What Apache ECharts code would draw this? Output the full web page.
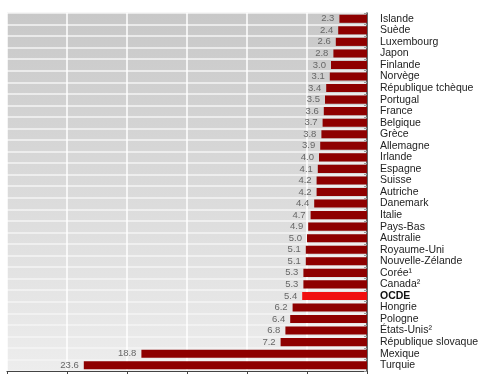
<!DOCTYPE html>
<html>
<head>
<meta charset="utf-8">
<script src="https://cdn.jsdelivr.net/npm/echarts@6/dist/echarts.min.js"></script>
<style>html,body{margin:0;padding:0;background:#fff}#c{width:478px;height:376px}</style>
</head>
<body>
<div id="c"></div>
<script>
var categories = ["Islande","Suède","Luxembourg","Japon","Finlande","Norvège","République tchèque","Portugal","France","Belgique","Grèce","Allemagne","Irlande","Espagne","Suisse","Autriche","Danemark","Italie","Pays-Bas","Australie","Royaume-Uni","Nouvelle-Zélande","Corée¹","Canada²","OCDE","Hongrie","Pologne","États-Unis²","République slovaque","Mexique","Turquie"];
var values = [2.3,2.4,2.6,2.8,3.0,3.1,3.4,3.5,3.6,3.7,3.8,3.9,4.0,4.1,4.2,4.2,4.4,4.7,4.9,5.0,5.1,5.1,5.3,5.3,5.4,6.2,6.4,6.8,7.2,18.8,23.6];
var highlight = "OCDE";

var chart = echarts.init(document.getElementById('c'), null, {renderer:'canvas'});
var data = values.map(function(v,i){
  var item = {value:v};
  if (categories[i] === highlight) item.itemStyle = {color:'#f01010'};
  return item;
});
chart.setOption({
  animation:false,
  grid:{left:7,right:111,top:13,bottom:5,show:true,borderWidth:0,containLabel:false,outerBoundsMode:'none',
    backgroundColor:{type:'linear',x:0,y:0,x2:0,y2:1,colorStops:[{offset:0,color:'#c8c8c8'},{offset:1,color:'#ededed'}]}},
  xAxis:{type:'value',min:0,max:30,interval:5,inverse:true,
    axisLine:{show:true,lineStyle:{color:'#444',width:1.2}},
    axisTick:{show:true,length:3,lineStyle:{color:'#444'}},
    axisLabel:{show:false},
    splitLine:{show:true,lineStyle:{color:'#ffffff',width:1.5}}},
  yAxis:{type:'category',data:categories,inverse:true,position:'right',
    axisLine:{show:true,onZero:false,lineStyle:{color:'#333',width:1.5}},
    axisTick:{show:true,inside:true,length:3,interval:0,lineStyle:{color:'#999'}},
    splitLine:{show:true,interval:0,lineStyle:{color:'#f4f4f4',width:1.5}},
    axisLabel:{margin:13,interval:0,color:'#222',fontFamily:'Liberation Sans, Arial, sans-serif',fontSize:10.5,
      formatter:function(v){return v===highlight?'{b|'+v+'}':v;},
      rich:{b:{fontWeight:'bold',color:'#111',fontSize:10.5,fontFamily:'Liberation Sans, Arial, sans-serif'}}}},
  series:[{type:'bar',data:data,barCategoryGap:'30%',
    itemStyle:{color:'#8e0000'},
    label:{show:true,position:'left',distance:5,color:'#666',fontSize:9.5,
      fontFamily:'Liberation Sans, Arial, sans-serif',
      formatter:function(p){return p.value.toFixed(1);}}}]
});
</script>
</body>
</html>
